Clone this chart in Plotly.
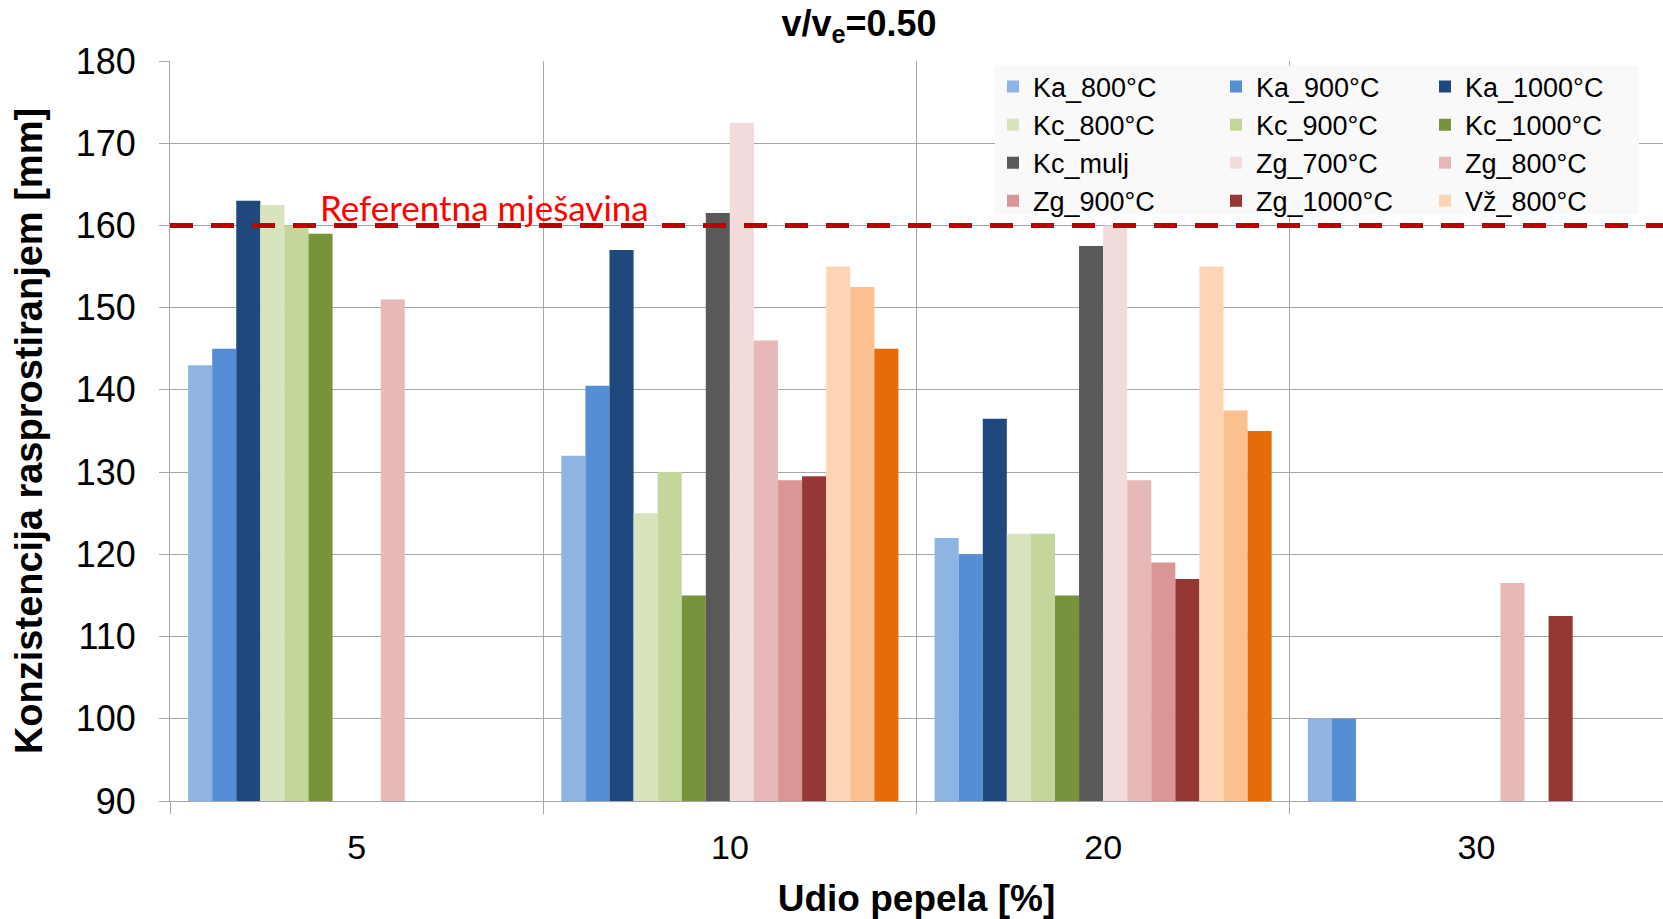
import plotly.graph_objects as go

categories = ["5", "10", "20", "30"]

series_names = ["Ka_800°C", "Ka_900°C", "Ka_1000°C",
                "Kc_800°C", "Kc_900°C", "Kc_1000°C",
                "Kc_mulj", "Zg_700°C", "Zg_800°C",
                "Zg_900°C", "Zg_1000°C", "Vž_800°C",
                "Vž_900°C", "Vž_1000°C"]

ka_800 = [143, 132, 122, 100]
ka_900 = [145, 140.5, 120, 100]
ka_1000 = [163, 157, 136.5, None]
kc_800 = [162.5, 125, 122.5, None]
kc_900 = [160, 130, 122.5, None]
kc_1000 = [159, 115, 115, None]
kc_mulj = [None, 161.5, 157.5, None]
zg_700 = [None, 172.5, 160, None]
zg_800 = [151, 146, 129, 116.5]
zg_900 = [None, 129, 119, None]
zg_1000 = [None, 129.5, 117, 112.5]
vz_800 = [None, 155, 155, None]
vz_900 = [None, 152.5, 137.5, None]
vz_1000 = [None, 145, 135, None]

series_values = [ka_800, ka_900, ka_1000, kc_800, kc_900, kc_1000, kc_mulj,
                 zg_700, zg_800, zg_900, zg_1000, vz_800, vz_900, vz_1000]

colors = ["#8EB4E3", "#558ED5", "#1F497D",
          "#D7E4BD", "#C3D69B", "#77933C",
          "#595959", "#F2DCDB", "#E6B9B8",
          "#D99694", "#953735", "#FCD5B5",
          "#FAC090", "#E46C0A"]

# legend column assignment (3-column grid, as in the original)
legend_cols = ["legend", "legend2", "legend3",
               "legend", "legend2", "legend3",
               "legend", "legend2", "legend3",
               "legend", "legend2", "legend3",
               "legend", "legend2"]
show_in_legend = [True] * 12 + [False, False]

reference_value = 160
reference_label = "Referentna mješavina"

FONT = "Arial, Liberation Sans, sans-serif"
GRID = "#A6A6A6"

fig = go.Figure()
for name, vals, col, lg, sl in zip(series_names, series_values, colors, legend_cols, show_in_legend):
    fig.add_trace(go.Bar(name=name, x=categories, y=vals, marker=dict(color=col, line=dict(width=0)),
                         legend=lg, showlegend=sl))

# legend background box
fig.add_shape(type="rect", xref="paper", yref="paper", x0=0.5526, x1=0.984, y0=0.7924, y1=0.9939,
              fillcolor="#F9F9F9", line=dict(width=0), layer="above")

# reference line
fig.add_shape(type="line", xref="paper", yref="y", x0=0, x1=1, y0=reference_value, y1=reference_value,
              line=dict(color="#C00000", width=5, dash="23px,18px"), layer="above")
fig.add_annotation(xref="paper", yref="y", x=0.099, y=reference_value, xanchor="left", yanchor="middle",
                   yshift=18, text=reference_label, showarrow=False,
                   font=dict(family="Lato, sans-serif", size=35, color="#FF0000"))

legend_common = dict(xanchor="left", yanchor="top", y=0.998, bgcolor="rgba(0,0,0,0)",
                     font=dict(family=FONT, size=27, color="#000000"), tracegroupgap=0,
                     orientation="v", itemclick=False)

fig.update_layout(
    width=1663, height=919,
    margin=dict(l=170, r=0, t=61, b=118),
    paper_bgcolor="white", plot_bgcolor="white",
    barmode="group", bargap=0.097, bargroupgap=0,
    title=dict(text="<b>v/v<sub>e</sub>=0.50</b>", x=859 / 1663, xref="container", xanchor="center",
               y=1 - 23 / 919, yref="container", yanchor="middle",
               font=dict(family=FONT, size=36, color="#000000")),
    legend=dict(x=(993 - 170) / 1493, **legend_common),
    legend2=dict(x=(1216 - 170) / 1493, **legend_common),
    legend3=dict(x=(1425 - 170) / 1493, **legend_common),
    font=dict(family=FONT, color="#000000"),
)

fig.update_yaxes(range=[90, 180], dtick=10, showgrid=True, gridcolor=GRID, gridwidth=1,
                 showline=True, linecolor=GRID, linewidth=1, ticks="outside", ticklen=10,
                 tickcolor=GRID, zeroline=False, ticklabelstandoff=16,
                 tickfont=dict(family=FONT, size=36, color="#000000"),
                 title=dict(text="<b>Konzistencija rasprostiranjem [mm]</b>", standoff=21,
                            font=dict(family=FONT, size=38, color="#000000")))
fig.update_xaxes(type="category", range=[-0.5, 3.5], tickson="boundaries", showgrid=True,
                 gridcolor=GRID, gridwidth=1, showline=True, linecolor=GRID, linewidth=1,
                 ticks="outside", ticklen=12, tickcolor=GRID, ticklabelstandoff=16,
                 tickfont=dict(family=FONT, size=34, color="#000000"),
                 title=dict(text="<b>Udio pepela [%]</b>", standoff=21,
                            font=dict(family=FONT, size=37, color="#000000")))

fig.write_html("out.html")
